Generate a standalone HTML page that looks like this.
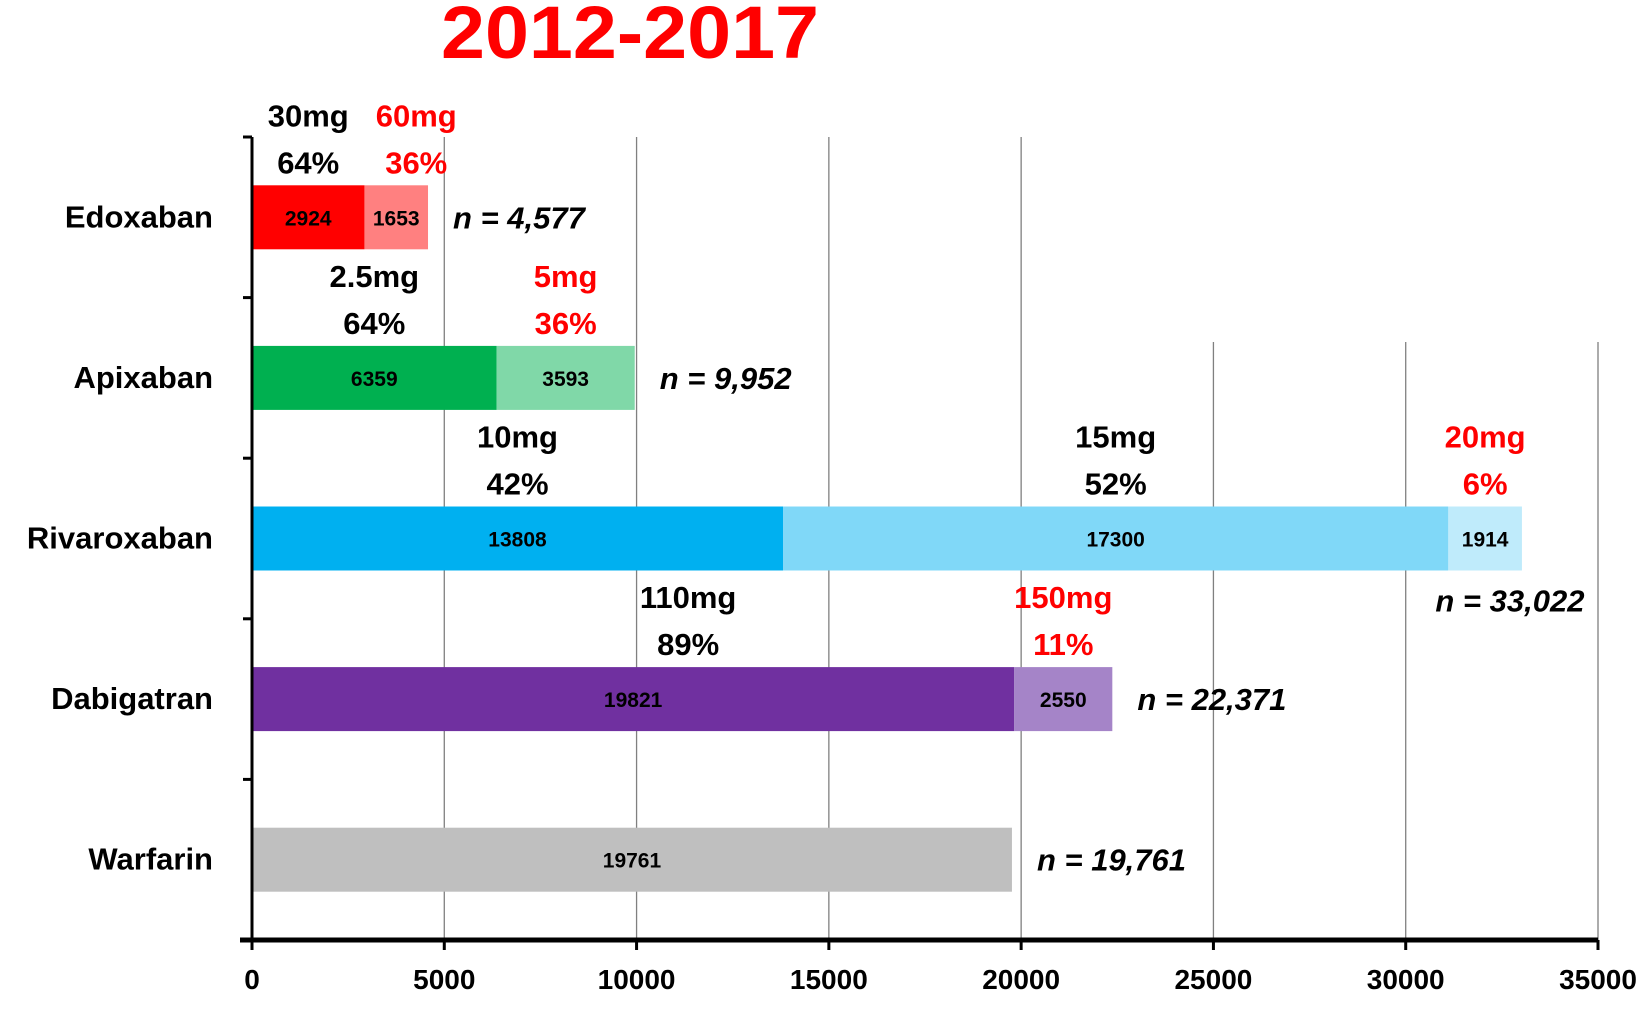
<!DOCTYPE html>
<html><head><meta charset="utf-8"><style>
html,body{margin:0;padding:0;background:#fff;}
svg text{font-family:"Liberation Sans",sans-serif;font-weight:bold;}
</style></head><body>
<svg id="chart" width="1650" height="1008" viewBox="0 0 1650 1008" xmlns="http://www.w3.org/2000/svg">
<text x="630" y="58" text-anchor="middle" font-size="74" fill="#FF0000" textLength="378" lengthAdjust="spacingAndGlyphs">2012-2017</text>
<g id="grid"></g><g id="bars"></g><g id="axes"></g><g id="labels"></g>
</svg>
<script>
const categories = ["Edoxaban","Apixaban","Rivaroxaban","Dabigatran","Warfarin"];
const segValues = [[2924,1653],[6359,3593],[13808,17300,1914],[19821,2550],[19761]];
const segColors = [["#FF0000","#FF8080"],["#00B050","#80D8A8"],["#00B0F0","#80D8F8","#BFEBFB"],["#7030A0","#A584C8"],["#BFBFBF"]];
const doseLabels = [["30mg","60mg"],["2.5mg","5mg"],["10mg","15mg","20mg"],["110mg","150mg"],[]];
const dosePcts = [["64%","36%"],["64%","36%"],["42%","52%","6%"],["89%","11%"],[]];
const doseRed = [[false,true],[false,true],[false,false,true],[false,true],[]];
const totals = ["n = 4,577","n = 9,952","n = 33,022","n = 22,371","n = 19,761"];
const xTicks = [0,5000,10000,15000,20000,25000,30000,35000];
const NS="http://www.w3.org/2000/svg";
const x0=252, x1=1598, xMax=35000, yTop=137, yBot=940;
const xs=v=>x0+v*(x1-x0)/xMax;
const band=(yBot-yTop)/categories.length;
const yc=i=>yTop+band*(i+0.5);
function mk(tag,attrs,parent,text){const e=document.createElementNS(NS,tag);for(const k in attrs)e.setAttribute(k,attrs[k]);if(text!==undefined)e.textContent=text;document.getElementById(parent).appendChild(e);return e;}
xTicks.forEach((t,i)=>{ if(i===0)return;
  const top = t>=25000?342:yTop;
  const g=mk('line',{x1:xs(t),x2:xs(t),y1:top,y2:yBot,stroke:'#808080','stroke-width':1.3},'grid');
  
  
});
const yAx=mk('line',{x1:x0,x2:x0,y1:yTop,y2:yBot,stroke:'#000','stroke-width':3},'axes');


const xAx=mk('line',{x1:x0-12,x2:x1,y1:yBot,y2:yBot,stroke:'#000','stroke-width':5},'axes');


for(let i=0;i<=categories.length;i++){const y=yTop+band*i;
  const tk=mk('line',{x1:x0-9,x2:x0,y1:y,y2:y,stroke:'#000','stroke-width':3},'axes');
  
  }
xTicks.forEach(t=>{
  const tk=mk('line',{x1:xs(t),x2:xs(t),y1:yBot,y2:yBot+10,stroke:'#000','stroke-width':3},'axes');
  
  
  const tl=mk('text',{x:xs(t),y:yBot+49,'text-anchor':'middle','font-size':28},'axes',String(t));
  
  
});
const bh=64;
categories.forEach((c,i)=>{
  const cy=yc(i);
  const cl=mk('text',{x:213,y:cy+10,'text-anchor':'end','font-size':31},'labels',c);
  
  
  let acc=0;
  segValues[i].forEach((v,j)=>{
    const r=mk('rect',{x:xs(acc),y:cy-bh/2,width:xs(acc+v)-xs(acc),height:bh,fill:segColors[i][j]},'bars');
    
    
    const mid=xs(acc+v/2);
    const vl=mk('text',{x:mid,y:cy+8,'text-anchor':'middle','font-size':21},'labels',String(v));
    
    
    if(doseLabels[i][j]){
      const col=doseRed[i][j]?'#FF0000':'#000';
      const off=(i===3&&j===0)?55:(j>0&&i===0)?20:0;
      const d1=mk('text',{x:mid+off,y:cy-91,'text-anchor':'middle','font-size':31,fill:col},'labels',doseLabels[i][j]);
      
      
      const d2=mk('text',{x:mid+off,y:cy-44,'text-anchor':'middle','font-size':31,fill:col},'labels',dosePcts[i][j]);
      
      
    }
    acc+=v;
  });
  let tx,ty,anchor;
  if(i===2){tx=xs(acc)-12;ty=cy+73;anchor='middle';}else{tx=xs(acc)+25;ty=cy+11;anchor='start';}
  const nl=mk('text',{x:tx,y:ty,'text-anchor':anchor,'font-size':31,'font-style':'italic'},'labels',totals[i]);
  
  
});
</script>
</body></html>
